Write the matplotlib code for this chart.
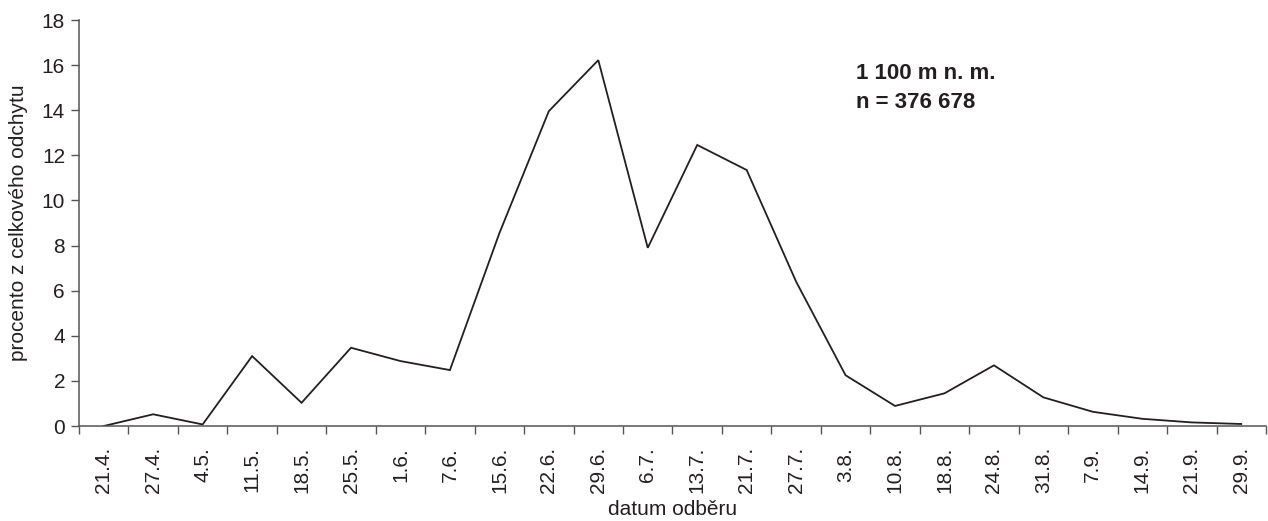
import matplotlib

matplotlib.use("Agg")

import matplotlib.pyplot as plt  # noqa: E402
from matplotlib.ticker import FixedLocator  # noqa: E402

_INK = "#231f20"
_AXIS = "#555555"

dates = [
    "21.4.", "27.4.", "4.5.", "11.5.", "18.5.", "25.5.", "1.6.", "7.6.",
    "15.6.", "22.6.", "29.6.", "6.7.", "13.7.", "21.7.", "27.7.", "3.8.",
    "10.8.", "18.8.", "24.8.", "31.8.", "7.9.", "14.9.", "21.9.", "29.9.",
]
percent = [
    0.0, 0.52, 0.07, 3.10, 1.03, 3.47, 2.88, 2.48,
    8.55, 13.96, 16.22, 7.90, 12.46, 11.35, 6.40, 2.25,
    0.89, 1.45, 2.69, 1.27, 0.63, 0.32, 0.16, 0.09,
]
y_ticks = [0, 2, 4, 6, 8, 10, 12, 14, 16, 18]
note = "1 100 m n. m.\nn = 376 678"

plt.rcParams["font.family"] = ["Liberation Sans", "DejaVu Sans"]

fig = plt.figure(figsize=(12.68, 5.21), dpi=100)
ax = fig.add_axes([0.0623, 0.1823, 0.9361, 0.7793])

x = list(range(len(dates)))
ax.plot(x, percent, color=_INK, linewidth=1.3, solid_joinstyle="miter")

ax.set_xlim(-0.5, len(dates) - 0.5)
ax.set_ylim(0, 18)
ax.set_yticks(y_ticks)

# category labels in the middle, tick marks on the boundaries
ax.set_xticks(x)
ax.set_xticklabels(dates, rotation=90, fontsize=15, color=_INK)
ax.xaxis.set_minor_locator(FixedLocator([i - 0.5 for i in range(len(dates) + 1)]))
ax.tick_params(axis="x", which="major", length=0, pad=15)
ax.tick_params(axis="x", which="minor", length=6, width=1, color=_AXIS, direction="out")
ax.tick_params(axis="y", length=6, width=1, color=_AXIS, labelsize=15, labelcolor=_INK, pad=4)

for side in ("top", "right"):
    ax.spines[side].set_visible(False)
for side in ("left", "bottom"):
    ax.spines[side].set_color(_AXIS)
    ax.spines[side].set_linewidth(1.1)

ax.set_ylabel("procento z celkového odchytu", fontsize=15, color=_INK, labelpad=10)
ax.set_xlabel("datum odběru", fontsize=15, color=_INK, labelpad=5)

ax.text(0.655, 0.893, note, transform=ax.transAxes, fontsize=16,
        fontweight="bold", color=_INK, va="top", ha="left", linespacing=1.45)

fig.savefig("out.png", dpi=100, facecolor="white")
